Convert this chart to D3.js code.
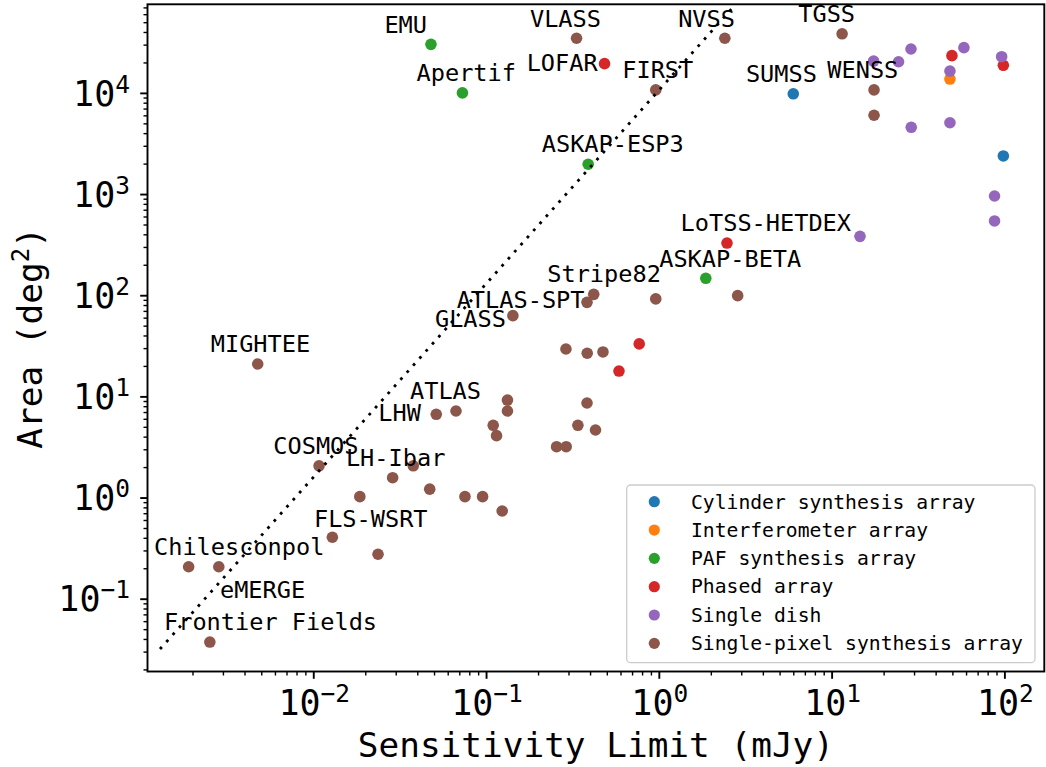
<!DOCTYPE html>
<html>
<head>
<meta charset="utf-8">
<script src="https://cdn.jsdelivr.net/npm/d3@7"></script>
<style>
  html, body { margin: 0; padding: 0; background: #ffffff; }
  svg { display: block; font-family: "DejaVu Sans Mono", monospace; }
</style>
</head>
<body>
<svg id="chart" width="1046" height="767"></svg>
<script>
// ---- survey types (legend order) ----
const categories = [
  "Cylinder synthesis array",
  "Interferometer array",
  "PAF synthesis array",
  "Phased array",
  "Single dish",
  "Single-pixel synthesis array"
];

// ---- sensitivity limit (mJy) and sky area (deg^2) per survey type ----
const cylinderSens = [6.0, 98.6];
const cylinderArea = [9800, 2380];

const interferometerSens = [48.4];
const interferometerArea = [13700];

const pafSens = [0.048, 0.073, 0.39, 1.87];
const pafArea = [30200, 10000, 1970, 147];

const phasedSens = [0.485, 49.7, 98.6, 2.48, 0.77, 0.588];
const phasedArea = [19450, 23340, 18740, 328, 33.0, 17.8];

const dishSens = [17.5, 24.4, 28.8, 58.3, 96.4, 48.4, 28.9, 48.4, 87.7, 87.7, 14.6];
const dishArea = [20650, 20320, 27160, 27990, 22800, 16450, 4570, 5070, 957, 542, 382];

const pixelSens = [0.334, 2.41, 11.5, 0.96, 17.6, 17.6, 0.42, 0.384, 0.96, 2.86,
                   0.143, 0.00477, 0.29, 0.385, 0.475, 0.0515, 0.067, 0.133, 0.133, 0.110,
                   0.115, 0.384, 0.34, 0.43, 0.256, 0.291, 0.0108, 0.0379, 0.0288, 0.0472,
                   0.0186, 0.0755, 0.0955, 0.124, 0.0129, 0.0237, 0.0019, 0.00284, 0.00252];
const pixelArea = [34700, 34700, 38400, 10700, 10700, 6010, 102, 85, 92, 99,
                   62.8, 20.9, 29.4, 26.7, 27.5, 6.65, 7.17, 9.2, 7.17, 5.18,
                   4.09, 8.6, 5.18, 4.65, 3.18, 3.18, 2.06, 2.06, 1.57, 1.21,
                   1.02, 1.02, 1.02, 0.736, 0.405, 0.275, 0.207, 0.207, 0.0373];

// ---- survey name labels and where their text sits (mJy, deg^2) ----
const surveyNames = ["EMU", "Apertif", "ASKAP-ESP3", "ASKAP-BETA", "VLASS", "LOFAR", "NVSS",
                     "FIRST", "TGSS", "SUMSS", "WENSS", "LoTSS-HETDEX", "Stripe82", "ATLAS-SPT",
                     "GLASS", "MIGHTEE", "ATLAS", "LHW", "COSMOS", "LH-Ibar", "FLS-WSRT",
                     "Chilesconpol", "eMERGE", "Frontier Fields"];
const labelSens = [0.0258, 0.0396, 0.210, 1.005, 0.1795, 0.1718, 1.294,
                   0.614, 6.41, 3.19, 9.44, 1.336, 0.226, 0.0676,
                   0.0506, 0.00255, 0.0363, 0.0238, 0.00587, 0.01545, 0.01009,
                   0.001197, 0.002884, 0.001368];
const labelArea = [39350, 13100, 2590, 191, 45100, 16450, 45100,
                   14130, 50200, 12900, 14130, 434, 136, 74.3,
                   48.2, 27.3, 9.42, 5.75, 2.69, 2.06, 0.508,
                   0.2704, 0.1023, 0.0491];

// ---- power-law survey limit (dotted line) ----
const limitSens = [0.001297, 3.0];
const limitArea = [0.0318, 86700];

// ---- axis ticks ----
const xTickExponents = [-2, -1, 0, 1, 2];
const yTickExponents = [-1, 0, 1, 2, 3, 4];

// ---- styling ----
const colors = ["#1f77b4", "#ff7f0e", "#2ca02c", "#d62728", "#9467bd", "#8c564b"];
const seriesSens = [cylinderSens, interferometerSens, pafSens, phasedSens, dishSens, pixelSens];
const seriesArea = [cylinderArea, interferometerArea, pafArea, phasedArea, dishArea, pixelArea];

const plot = { left: 147.5, right: 1044.3, top: 4.3, bottom: 671.5 };

const svg = d3.select("#chart");

const x = d3.scaleLog().domain([0.001098, 170.2]).range([plot.left, plot.right]);
const y = d3.scaleLog().domain([0.01907, 75120]).range([plot.bottom, plot.top]);

svg.append("defs").append("clipPath").attr("id", "plotClip")
  .append("rect")
  .attr("x", plot.left).attr("y", plot.top)
  .attr("width", plot.right - plot.left).attr("height", plot.bottom - plot.top);

// minor ticks: 2..9 times each decade inside the domain
function minorTicks(scale) {
  const [a, b] = scale.domain();
  const out = [];
  for (let e = Math.floor(Math.log10(a)); e <= Math.ceil(Math.log10(b)); e++) {
    for (let k = 2; k <= 9; k++) {
      const v = k * Math.pow(10, e);
      if (v >= a && v <= b) out.push(v);
    }
  }
  return out;
}

const xMajor = xTickExponents.map(e => Math.pow(10, e));
const yMajor = yTickExponents.map(e => Math.pow(10, e));

// x axis ticks
const gxMinor = svg.append("g").attr("transform", `translate(0,${plot.bottom})`)
  .call(d3.axisBottom(x).tickValues(minorTicks(x)).tickSize(4).tickFormat(""));
const gxMajor = svg.append("g").attr("transform", `translate(0,${plot.bottom})`)
  .call(d3.axisBottom(x).tickValues(xMajor).tickSize(7.3).tickFormat(""));
// y axis ticks
const gyMinor = svg.append("g").attr("transform", `translate(${plot.left},0)`)
  .call(d3.axisLeft(y).tickValues(minorTicks(y)).tickSize(4).tickFormat(""));
const gyMajor = svg.append("g").attr("transform", `translate(${plot.left},0)`)
  .call(d3.axisLeft(y).tickValues(yMajor).tickSize(7.3).tickFormat(""));

[gxMinor, gxMajor, gyMinor, gyMajor].forEach(g => g.select(".domain").remove());
[gxMinor, gyMinor].forEach(g => g.selectAll(".tick line").attr("stroke", "#000").attr("stroke-width", 1.4));
[gxMajor, gyMajor].forEach(g => g.selectAll(".tick line").attr("stroke", "#000").attr("stroke-width", 1.9));

// power-of-ten tick labels
function powerLabel(sel, exp) {
  sel.append("tspan").text("10");
  sel.append("tspan").attr("dy", -13).attr("font-size", 24.5)
    .text(exp < 0 ? "\u2212" + Math.abs(exp) : String(exp));
}

xTickExponents.forEach(e => {
  const t = svg.append("text")
    .attr("x", x(Math.pow(10, e)) + 1)
    .attr("y", 715)
    .attr("text-anchor", "middle")
    .attr("font-size", 35)
    .attr("fill", "#000");
  powerLabel(t, e);
});

yTickExponents.forEach(e => {
  const t = svg.append("text")
    .attr("x", 130)
    .attr("y", y(Math.pow(10, e)) + 12.7)
    .attr("text-anchor", "end")
    .attr("font-size", 35)
    .attr("fill", "#000");
  powerLabel(t, e);
});

// axis titles
svg.append("text")
  .attr("x", (plot.left + plot.right) / 2)
  .attr("y", 757)
  .attr("text-anchor", "middle")
  .attr("font-size", 34.4)
  .attr("fill", "#000")
  .text("Sensitivity Limit (mJy)");

const yTitle = svg.append("text")
  .attr("transform", `translate(42,${(plot.top + plot.bottom) / 2}) rotate(-90)`)
  .attr("text-anchor", "middle")
  .attr("font-size", 34.4)
  .attr("fill", "#000");
yTitle.append("tspan").text("Area (deg");
yTitle.append("tspan").attr("dy", -13).attr("font-size", 24).text("2");
yTitle.append("tspan").attr("dy", 13).text(")");

// survey points
const pointsLayer = svg.append("g").attr("clip-path", "url(#plotClip)");
categories.forEach((cat, i) => {
  const rows = seriesSens[i].map((s, j) => ({ s, a: seriesArea[i][j] }));
  pointsLayer.append("g")
    .selectAll("circle")
    .data(rows)
    .join("circle")
    .attr("cx", d => x(d.s))
    .attr("cy", d => y(d.a))
    .attr("r", 5.8)
    .attr("fill", colors[i]);
});

// survey names
svg.append("g")
  .selectAll("text")
  .data(surveyNames.map((n, i) => ({ n, s: labelSens[i], a: labelArea[i] })))
  .join("text")
  .attr("x", d => x(d.s))
  .attr("y", d => y(d.a))
  .attr("font-size", 23.6)
  .attr("fill", "#000")
  .text(d => d.n);

// dotted survey-limit line
const limitLine = d3.line().x(d => x(d[0])).y(d => y(d[1]));
svg.append("path")
  .attr("clip-path", "url(#plotClip)")
  .attr("d", limitLine(limitSens.map((s, i) => [s, limitArea[i]])))
  .attr("fill", "none")
  .attr("stroke", "#000")
  .attr("stroke-width", 2.8)
  .attr("stroke-dasharray", "2.8,6.7");

// frame
svg.append("rect")
  .attr("x", plot.left).attr("y", plot.top)
  .attr("width", plot.right - plot.left).attr("height", plot.bottom - plot.top)
  .attr("fill", "none").attr("stroke", "#000").attr("stroke-width", 1.9);

// legend
const legend = svg.append("g");
legend.append("rect")
  .attr("x", 626.7).attr("y", 485)
  .attr("width", 408.3).attr("height", 177.7)
  .attr("rx", 4).attr("ry", 4)
  .attr("fill", "#fff").attr("fill-opacity", 0.8)
  .attr("stroke", "#cccccc").attr("stroke-width", 1.3);

categories.forEach((cat, i) => {
  const cy = 501.7 + i * 28.33;
  legend.append("circle").attr("cx", 654.3).attr("cy", cy).attr("r", 5.6).attr("fill", colors[i]);
  legend.append("text")
    .attr("x", 691).attr("y", cy + 6.8)
    .attr("font-size", 19.7)
    .attr("fill", "#000")
    .text(cat);
});
</script>
</body>
</html>
